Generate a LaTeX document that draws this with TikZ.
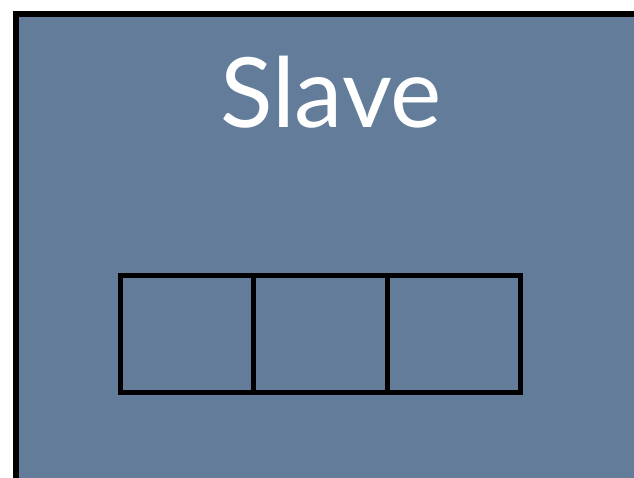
\documentclass[tikz,border=0pt]{standalone}
\usepackage{fontspec}
\setmainfont{Lato}
\definecolor{slate}{RGB}{98,124,154}
\tikzset{cell/.style={draw=black,line width=5pt,minimum width=133.33pt,minimum height=117pt,inner sep=0pt,outer sep=0pt,anchor=north west}}
\begin{document}
\begin{tikzpicture}[x=1pt,y=-1pt]
\useasboundingbox (0,0) rectangle (634,477);
\clip (0,0) rectangle (634,477);
\fill[white] (0,0) rectangle (634,477);
\draw[line width=6pt,fill=slate] (16,14) rectangle (660,500);
\node[text=white,font=\fontsize{97}{97}\selectfont,anchor=base,inner sep=0pt] (title) at (331,127) {Slave};
\node[cell] (c1) at (120.5,275.5) {};
\node[cell] (c2) at (c1.north east) {};
\node[cell] (c3) at (c2.north east) {};
\end{tikzpicture}
\end{document}
